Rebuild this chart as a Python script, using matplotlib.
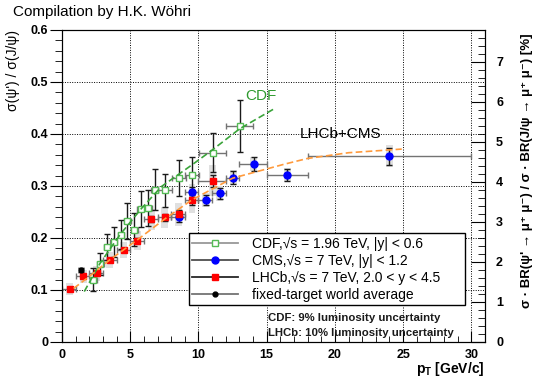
import matplotlib
matplotlib.use("Agg")
import matplotlib.pyplot as plt
from matplotlib.lines import Line2D
from matplotlib.ticker import MultipleLocator

### data
# CDF, sqrt(s) = 1.96 TeV, |y| < 0.6
cdf_pt = [2.29, 2.82, 3.30, 3.80, 4.32, 4.80, 5.30, 5.78, 6.32, 6.80, 7.53, 8.56, 9.53, 11.03, 13.02]
cdf_pt_err = [0.25, 0.25, 0.25, 0.25, 0.25, 0.25, 0.25, 0.25, 0.25, 0.25, 0.5, 0.5, 0.5, 1.0, 1.0]
cdf_ratio = [0.120, 0.150, 0.183, 0.193, 0.206, 0.233, 0.216, 0.256, 0.258, 0.293, 0.292, 0.315, 0.321, 0.364, 0.415]
cdf_err = [0.022, 0.021, 0.025, 0.029, 0.028, 0.034, 0.032, 0.035, 0.035, 0.039, 0.032, 0.035, 0.035, 0.038, 0.050]

# CMS, sqrt(s) = 7 TeV, |y| < 1.2
cms_pt = [8.56, 9.53, 10.52, 11.55, 12.55, 14.05, 16.5, 24.0]
cms_pt_lo = [8, 9, 10, 11, 12, 13, 15, 18]
cms_pt_hi = [9, 10, 11, 12, 13, 15, 18, 30]
cms_ratio = [0.240, 0.288, 0.273, 0.286, 0.316, 0.342, 0.321, 0.357]
cms_stat = [0.010, 0.010, 0.010, 0.011, 0.012, 0.013, 0.012, 0.016]
cms_syst = [0.014, 0.016, 0.014, 0.014, 0.014, 0.014, 0.013, 0.021]

# LHCb, sqrt(s) = 7 TeV, 2.0 < y < 4.5
lhcb_pt = [0.56, 1.56, 2.55, 3.51, 4.53, 5.52, 6.54, 7.54, 8.56, 9.53, 11.03]
lhcb_pt_lo = [0, 1, 2, 3, 4, 5, 6, 7, 8, 9, 10]
lhcb_pt_hi = [1, 2, 3, 4, 5, 6, 7, 8, 9, 10, 12]
lhcb_ratio = [0.102, 0.126, 0.132, 0.158, 0.177, 0.195, 0.236, 0.240, 0.246, 0.273, 0.310]
lhcb_stat = [0.003, 0.003, 0.003, 0.004, 0.004, 0.005, 0.006, 0.007, 0.008, 0.010, 0.012]
lhcb_syst = [0.012, 0.013, 0.014, 0.015, 0.016, 0.018, 0.020, 0.020, 0.022, 0.024, 0.030]

# fixed-target world average
ft_pt = [1.40]
ft_ratio = [0.138]
ft_err = [0.004]
ft_syst = [0.007]

# dashed curves
cdf_fit_pt = [1.63, 2.78, 4.24, 5.83, 7.29, 9.49, 10.95, 13.02, 15.58]
cdf_fit_ratio = [0.097, 0.151, 0.206, 0.257, 0.299, 0.340, 0.368, 0.410, 0.449]
lhc_fit_pt = [0.85, 2.0, 3.5, 5.5, 7.5, 9.5, 12.5, 16.3, 18.0, 21.0, 24.9]
lhc_fit_ratio = [0.103, 0.126, 0.158, 0.196, 0.236, 0.273, 0.315, 0.342, 0.353, 0.364, 0.371]

# axis ticks
x_ticks = [0, 5, 10, 15, 20, 25, 30]
y_ticks = [0, 0.1, 0.2, 0.3, 0.4, 0.5, 0.6]
y_tick_labels = ["0", "0.1", "0.2", "0.3", "0.4", "0.5", "0.6"]
br_ticks = [0, 1, 2, 3, 4, 5, 6, 7]

plt.rcParams['font.family'] = ['Liberation Sans', 'DejaVu Sans']
plt.rcParams['mathtext.fontset'] = 'custom'
plt.rcParams['mathtext.rm'] = 'Liberation Sans'
plt.rcParams['mathtext.it'] = 'Liberation Sans:italic'
plt.rcParams['mathtext.bf'] = 'Liberation Sans:bold'


def diff(a, b):
    return [x - y for x, y in zip(a, b)]


def draw_points(ax, pt, xlo, xhi, ratio, err, style):
    """draws horizontal (grey) and vertical (black) error bars plus the marker"""
    ax.errorbar(pt, ratio, xerr=[xlo, xhi], fmt='none', ecolor='0.45',
                elinewidth=1.0, capsize=2, zorder=3)
    ax.errorbar(pt, ratio, yerr=err, fmt='none', ecolor='0.1',
                elinewidth=1.0, capsize=2, zorder=4)
    ax.plot(pt, ratio, linestyle='none', zorder=5, **style)


fig = plt.figure(figsize=(5.35, 3.8), dpi=100)
ax = fig.add_axes([62 / 535, 38 / 380, 423 / 535, 312 / 380])

### systematic boxes
for pts, vals, syst in [(lhcb_pt, lhcb_ratio, lhcb_syst), (cms_pt, cms_ratio, cms_syst),
                        (ft_pt, ft_ratio, ft_syst)]:
    ax.bar(pts, [2 * s for s in syst], width=0.5, bottom=diff(vals, syst),
           color='0.88', edgecolor='none', zorder=2)

### fits
ax.plot(cdf_fit_pt, cdf_fit_ratio, color='#3aa43a', lw=1.2, dashes=(4, 2), zorder=6)
ax.plot(lhc_fit_pt, lhc_fit_ratio, color='#ff9a3c', lw=1.2, dashes=(4, 2), zorder=6)

### data points
cdf_style = dict(marker='s', ms=4, mfc='white', mec='#55bb55', mew=1.0)
cms_style = dict(marker='o', ms=5, mfc='#0000ff', mec='#0000ff')
lhcb_style = dict(marker='s', ms=4.5, mfc='#ff0000', mec='#ff0000')
ft_style = dict(marker='o', ms=3.5, mfc='black', mec='black')

draw_points(ax, cdf_pt, cdf_pt_err, cdf_pt_err, cdf_ratio, cdf_err, cdf_style)
draw_points(ax, cms_pt, diff(cms_pt, cms_pt_lo), diff(cms_pt_hi, cms_pt), cms_ratio, cms_stat, cms_style)
draw_points(ax, lhcb_pt, diff(lhcb_pt, lhcb_pt_lo), diff(lhcb_pt_hi, lhcb_pt), lhcb_ratio, lhcb_stat, lhcb_style)
ax.errorbar(ft_pt, ft_ratio, yerr=ft_err, fmt='none', ecolor='0.1', elinewidth=1.0, capsize=2, zorder=4)
ax.plot(ft_pt, ft_ratio, linestyle='none', zorder=5, **ft_style)

### axes
ax.set_xlim(0, 31)
ax.set_ylim(0, 0.6)
ax.set_xticks(x_ticks)
ax.set_yticks(y_ticks, labels=y_tick_labels)
ax.xaxis.set_minor_locator(MultipleLocator(1))
ax.yaxis.set_minor_locator(MultipleLocator(0.02))
ax.grid(True, which='major', linestyle=(0, (1, 1.5)), color='black', lw=0.7)
ax.tick_params(axis='x', which='major', direction='in', length=8, labelsize=9, pad=5)
ax.tick_params(axis='x', which='minor', direction='in', length=4)
ax.tick_params(axis='y', which='major', direction='out', length=9, labelsize=9, pad=1)
ax.tick_params(axis='y', which='minor', direction='out', length=5)
plt.setp(ax.get_xticklabels() + ax.get_yticklabels(), fontweight='bold')

ax.set_xlabel(r"p$_\mathbf{T}$ [GeV/c]", loc='right', fontsize=10, fontweight='bold')
ax.xaxis.set_label_coords(1.0, -0.058)
ax.set_ylabel("σ(ψ') / σ(J/ψ)", loc='top', fontsize=10)
ax.yaxis.set_label_coords(-0.10, 1.0)

# right axis: sigma*BR ratio in percent
ax2 = ax.twinx()
ax2.set_ylim(0, 7.8)
ax2.set_yticks(br_ticks)
ax2.yaxis.set_minor_locator(MultipleLocator(0.2))
ax2.tick_params(axis='y', which='major', direction='in', length=10, labelsize=9, pad=8)
ax2.tick_params(axis='y', which='minor', direction='in', length=5)
plt.setp(ax2.get_yticklabels(), fontweight='bold')
ax2.set_ylabel("σ · BR(ψ' → μ⁺ μ⁻) / σ · BR(J/ψ → μ⁺ μ⁻) [%]", loc='top',
               fontsize=9.5, fontweight='bold')
ax2.yaxis.set_label_coords(1.085, 0.99)

### legend
handles = [
    Line2D([], [], color='0.6', lw=1.3, **cdf_style),
    Line2D([], [], color='0.3', lw=1.3, **cms_style),
    Line2D([], [], color='0.15', lw=1.3, **lhcb_style),
    Line2D([], [], color='0.45', lw=1.3, **ft_style),
]
labels = [
    "CDF,√s = 1.96 TeV, |y| < 0.6",
    "CMS,√s = 7 TeV, |y| < 1.2",
    "LHCb,√s = 7 TeV, 2.0 < y < 4.5",
    "fixed-target world average",
]
leg = ax.legend(handles, labels, loc='upper left', bbox_to_anchor=(0.300, 0.349, 0.653, 0.0),
                mode='expand', fontsize=10, handlelength=3.3, handletextpad=1.0,
                labelspacing=0.22, borderpad=0.25, fancybox=False, framealpha=1,
                edgecolor='black', borderaxespad=0)
leg.get_frame().set_linewidth(1.0)
leg.set_zorder(10)

### annotations
ax.text(13.44, 0.474, "CDF", color='#2e9a2e', fontsize=11, va='center')
ax.text(17.41, 0.400, "LHCb+CMS", color='black', fontsize=11, va='center')
ax.text(15.1, 0.047, "CDF: 9% luminosity uncertainty", fontsize=8.2, fontweight='bold',
        color='0.1', va='center')
ax.text(15.1, 0.018, "LHCb: 10% luminosity uncertainty", fontsize=8.2, fontweight='bold',
        color='0.1', va='center')
fig.text(13 / 535, 1 - 12 / 380, "Compilation by H.K. Wöhri", fontsize=11, va='center')

fig.savefig("out.png", dpi=100)
